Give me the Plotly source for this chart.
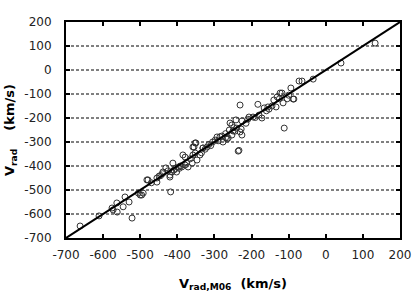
import plotly.graph_objects as go

# V_rad,M06 (km/s) vs V_rad (km/s)
v_m06 = [-662, -611, -576, -563, -562, -573, -546, -541, -530, -522,
         -505, -500, -496, -492, -479, -482, -455, -455, -449, -439,
         -431, -420, -418, -420, -412, -409, -402, -388, -385, -379,
         -371, -360, -358, -352, -347, -339, -331, -350, -355, -379,
         -358, -352, -320, -331, -298, -293, -277, -266, -263, -253,
         -226, -231, -250, -240, -253, -258, -226, -228, -242, -236,
         -234, -231, -207, -196, -180, -183, -172, -166, -156, -153,
         -140, -115, -134, -131, -118, -123, -104, -88, -86, -94,
         -72, -64, -34, 41, 133, -290, -285, -310, -305, -270,
         -245, -248, -215, -210, -190, -160, -145, -125, -100, -395,
         -392, -375, -365, -415, -425, -445, -470, -335, -325, -315,
         -280, -260, -112, -270, -440, -405, -398]
v_rad = [-650, -608, -575, -554, -592, -583, -570, -529, -550, -617,
         -513, -521, -521, -513, -458, -458, -467, -450, -442, -425,
         -408, -438, -508, -446, -388, -417, -425, -404, -354, -396,
         -404, -388, -321, -346, -375, -354, -325, -304, -321, -363,
         -354, -304, -321, -325, -292, -279, -300, -288, -283, -271,
         -271, -258, -254, -242, -229, -221, -212, -246, -208, -338,
         -335, -146, -196, -196, -188, -143, -200, -158, -154, -163,
         -125, -137, -154, -112, -96, -96, -120, -121, -121, -75,
         -46, -46, -38, 29, 112, -295, -278, -315, -300, -265,
         -255, -240, -222, -205, -198, -170, -150, -120, -105, -410,
         -400, -385, -370, -425, -420, -440, -470, -345, -330, -310,
         -275, -250, -242, -282, -432, -410, -405]

line_x = [-700, 200]
line_y = [-700, 200]

x_ticks = [-700, -600, -500, -400, -300, -200, -100, 0, 100, 200]
y_ticks = [-700, -600, -500, -400, -300, -200, -100, 0, 100, 200]

FONT = "DejaVu Sans"

fig = go.Figure()

# dashed horizontal gridlines
for yv in y_ticks[1:-1]:
    fig.add_shape(type="line", xref="x", yref="y", x0=-700, x1=200, y0=yv, y1=yv,
                  line=dict(color="black", width=1, dash="3px,2px"), layer="below")

fig.add_trace(go.Scatter(x=v_m06, y=v_rad, mode="markers",
                         marker=dict(symbol="circle-open", size=6, color="#333",
                                     line=dict(width=1, color="#333")),
                         showlegend=False))
fig.add_trace(go.Scatter(x=line_x, y=line_y, mode="lines",
                         line=dict(color="black", width=2), showlegend=False))

axis_common = dict(showgrid=False, zeroline=False, showline=True, linecolor="black",
                   linewidth=2, mirror="allticks", ticks="inside", ticklen=4,
                   tickwidth=2, tickcolor="black", automargin=False,
                   tickfont=dict(family=FONT, size=12, color="#222"))

fig.update_xaxes(range=[-700, 200], tickvals=x_ticks, ticktext=[str(v) for v in x_ticks],
                 ticklabelstandoff=5,
                 title=dict(text="<b>V<sub>rad,M06</sub>  (km/s)</b>",
                            font=dict(family=FONT, size=13, color="black"), standoff=17),
                 **axis_common)
fig.update_yaxes(range=[-700, 200], tickvals=y_ticks, ticktext=[str(v) for v in y_ticks],
                 ticklabelstandoff=10, **axis_common)

fig.add_annotation(text="<b>V<sub>rad</sub>    (km/s)</b>", textangle=-90,
                   xref="paper", yref="paper", x=0, y=0.5, xshift=-56,
                   xanchor="center", yanchor="middle", showarrow=False,
                   font=dict(family=FONT, size=13, color="black"))

fig.update_layout(width=415, height=300, margin=dict(l=66, r=15, t=22, b=62),
                  paper_bgcolor="white", plot_bgcolor="white")

fig.write_html("out.html", config={"displayModeBar": False},
               post_script="document.body.style.margin='0';document.body.style.overflow='hidden';")
